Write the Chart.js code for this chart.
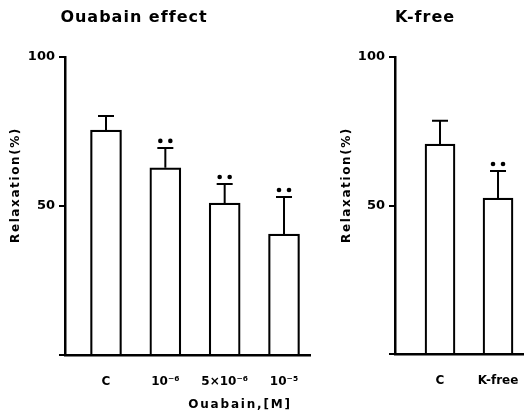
<!DOCTYPE html>
<html>
<head>
<meta charset="utf-8">
<script src="https://cdn.jsdelivr.net/npm/chart.js@4"></script>
<style>
  html, body { margin: 0; padding: 0; background: #fff; }
  body { width: 524px; height: 415px; position: relative; overflow: hidden; }
  canvas { position: absolute; top: 0; }
  #c1 { left: 0; }
  #c2 { left: 330px; }
</style>
</head>
<body>
<canvas id="c1" width="330" height="415"></canvas>
<canvas id="c2" width="194" height="415"></canvas>
<script>
// ---- data ----
const ouabainLabels = ['C', '10⁻⁶', '5×10⁻⁶', '10⁻⁵'];
const ouabainMeans  = [75.5, 62.8, 51, 40.6];
const ouabainSE     = [4.7, 6.7, 6.4, 12.4];
const ouabainSig    = [false, true, true, true];

const kfreeLabels = ['C', 'K-free'];
const kfreeMeans  = [70.7, 52.5];
const kfreeSE     = [7.8, 9.1];
const kfreeSig    = [false, true];

const yTickValues = [0, 50, 100];

const FONT = "'DejaVu Sans', sans-serif";

function annotPlugin(opts) {
  return {
    id: 'annot',
    afterDatasetsDraw(chart) {
      const ctx = chart.ctx;
      const meta = chart.getDatasetMeta(0);
      const ys = chart.scales.y;
      ctx.save();
      ctx.strokeStyle = '#000';
      ctx.fillStyle = '#000';
      ctx.lineWidth = 2;
      meta.data.forEach((el, i) => {
        const top = ys.getPixelForValue(opts.means[i] + opts.se[i]);
        ctx.beginPath();
        ctx.moveTo(el.x, el.y);
        ctx.lineTo(el.x, top);
        ctx.moveTo(el.x - 8, top);
        ctx.lineTo(el.x + 8, top);
        ctx.stroke();
        if (opts.sig[i]) {
          [-5, 5].forEach(dx => {
            ctx.beginPath();
            ctx.arc(el.x + dx, top - 7, 2.3, 0, Math.PI * 2);
            ctx.fill();
          });
        }
      });
      ctx.restore();
    },
    afterDraw(chart) {
      const ctx = chart.ctx;
      ctx.save();
      ctx.fillStyle = '#000';
      ctx.textAlign = 'center';
      ctx.textBaseline = 'middle';
      // title
      ctx.font = 'bold 16px ' + FONT;
      ctx.letterSpacing = '1px';
      ctx.fillText(opts.title, opts.titleX, 18);
      // y title
      ctx.font = 'bold 12px ' + FONT;
      ctx.letterSpacing = '1.6px';
      ctx.save();
      ctx.translate(opts.yTitleX, 185);
      ctx.rotate(-Math.PI / 2);
      ctx.fillText('Relaxation(%)', 0, 0);
      ctx.restore();
      // x title
      if (opts.xTitle) {
        ctx.font = 'bold 12px ' + FONT;
        ctx.letterSpacing = '1.8px';
        ctx.fillText(opts.xTitle, opts.xTitleX, 405);
      }
      ctx.restore();
    }
  };
}

function makeChart(id, labels, means, se, sig, xmin, xmax, barW, padRight, bottomH, title, titleX, yTitleX, xTitle, xTitleX) {
  const xs = labels.map((_, i) => i + 1);
  return new Chart(document.getElementById(id), {
    type: 'bar',
    data: {
      datasets: [{
        data: xs.map((x, i) => ({ x: x, y: means[i] })),
        backgroundColor: '#fff',
        borderColor: '#000',
        borderWidth: 2.2,
        borderSkipped: 'start',
        barThickness: barW
      }]
    },
    options: {
      responsive: false,
      animation: false,
      devicePixelRatio: 1,
      layout: { padding: { top: 57, left: 0, right: padRight, bottom: 0 } },
      plugins: { legend: { display: false }, tooltip: { enabled: false }, title: { display: false } },
      scales: {
        x: {
          type: 'linear',
          offset: false,
          min: xmin,
          max: xmax,
          afterBuildTicks(s) { s.ticks = xs.map(v => ({ value: v })); },
          afterFit(s) { s.height = bottomH; s.paddingLeft = 0; s.paddingRight = 0; },
          grid: { display: false, drawTicks: false },
          border: { display: true, color: '#000', width: 2.5 },
          ticks: {
            padding: 20,
            color: '#000',
            font: { family: FONT, size: 12, weight: 'bold' },
            maxRotation: 0,
            autoSkip: false,
            callback: (v) => labels[v - 1] || ''
          }
        },
        y: {
          min: 0,
          max: 100,
          afterBuildTicks(s) { s.ticks = yTickValues.map(v => ({ value: v })); },
          afterFit(s) { s.width = 65; },
          grid: { display: true, drawOnChartArea: false, drawTicks: true, tickLength: 6, color: '#000', lineWidth: 2 },
          border: { display: true, color: '#000', width: 2.5 },
          ticks: {
            padding: 4,
            color: '#000',
            font: { family: FONT, size: 13, weight: 'bold' },
            callback: (v) => v === 0 ? '' : String(v)
          }
        }
      }
    },
    plugins: [annotPlugin({ means, se, sig, title, titleX, yTitleX, xTitle, xTitleX })]
  });
}

makeChart('c1', ouabainLabels, ouabainMeans, ouabainSE, ouabainSig,
  0.309, 4.438, 31, 20, 60, 'Ouabain effect', 134, 16, 'Ouabain,[M]', 240);
makeChart('c2', kfreeLabels, kfreeMeans, kfreeSE, kfreeSig,
  0.224, 2.448, 30, 0, 61, 'K-free', 95, 17, null, 0);
</script>
</body>
</html>
